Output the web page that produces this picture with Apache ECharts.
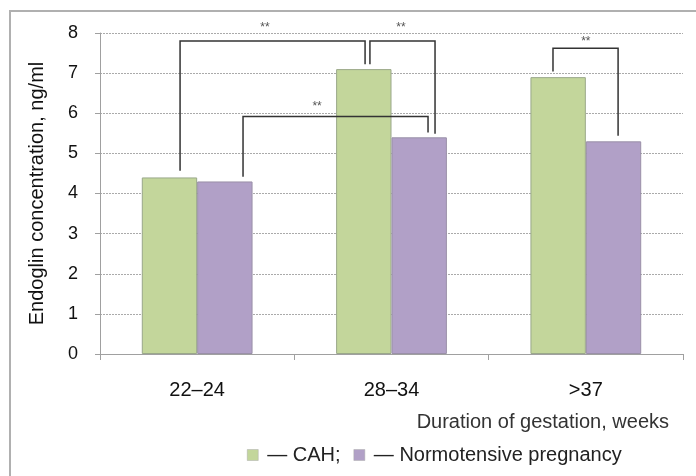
<!DOCTYPE html>
<html>
<head>
<meta charset="utf-8">
<script src="https://cdn.jsdelivr.net/npm/echarts@6/dist/echarts.min.js"></script>
<style>
html,body{margin:0;padding:0;background:#fff;}
#chart{width:696px;height:476px;}
</style>
</head>
<body>
<div id="chart"></div>
<script>
const categories = ['22–24', '28–34', '>37'];
const cahValues = [4.4, 7.1, 6.9];
const normValues = [4.3, 5.4, 5.3];
// significance brackets: [leftX, leftY, rightX, rightY, topY, labelX, labelY] (x on a helper value axis, -0.5..2.5)
const brackets = [
  [-0.088, 4.57, 0.864, 7.22, 7.8, 0.349, 8.12],
  [0.889, 7.22, 1.224, 5.49, 7.8, 1.049, 8.12],
  [0.236, 4.42, 1.188, 5.52, 5.92, 0.617, 6.16],
  [1.831, 7.04, 2.166, 5.44, 7.62, 2.0, 7.78]
];
const sigLabel = '**';

const chart = echarts.init(document.getElementById('chart'));
const font = 'Liberation Sans, Arial, sans-serif';
chart.setOption({
  animation: false,
  textStyle: { fontFamily: font },
  graphic: [{
    type: 'rect', shape: { x: 10, y: 11, width: 700, height: 480 },
    style: { fill: 'none', stroke: '#b0b0b0', lineWidth: 2 }, silent: true
  }],
  grid: { left: 100, right: 13, top: 33, bottom: 122, containLabel: false },
  legend: {
    left: 242, top: 440,
    icon: 'rect', itemWidth: 11, itemHeight: 11, itemGap: 13,
    itemStyle: { borderColor: '#aaa', borderWidth: 0.5 },
    textStyle: { fontSize: 20, color: '#222', fontFamily: font, padding: [0, 0, 0, 4] },
    formatter: n => '— ' + n + (n === 'CAH' ? ';' : ''),
    data: ['CAH', 'Normotensive pregnancy']
  },
  xAxis: [{
    type: 'category', data: categories,
    axisLine: { lineStyle: { color: '#a0a0a0', width: 1 } },
    axisTick: { show: true, length: 6, lineStyle: { color: '#a0a0a0' } },
    axisLabel: { fontSize: 20, color: '#111', margin: 26 },
    name: 'Duration of gestation, weeks', nameLocation: 'end', nameGap: -14,
    nameTextStyle: { fontSize: 20, color: '#333', align: 'right', verticalAlign: 'top', padding: [58, 0, 0, 0] }
  }, {
    type: 'value', min: -0.5, max: 2.5, show: false
  }],
  yAxis: {
    type: 'value', min: 0, max: 8, interval: 1,
    axisLine: { show: true, onZero: false, lineStyle: { color: '#a0a0a0' } },
    axisTick: { show: true, length: 5, lineStyle: { color: '#a0a0a0' } },
    axisLabel: { fontSize: 18, color: '#111', margin: 22 },
    splitLine: { lineStyle: { type: [2, 1], color: '#aaa', width: 1 } },
    name: 'Endoglin concentration, ng/ml', nameLocation: 'middle', nameGap: 53,
    nameTextStyle: { fontSize: 20, color: '#111' }
  },
  series: [{
    name: 'CAH', type: 'bar', data: cahValues, barGap: '0%', barCategoryGap: '43%',
    itemStyle: { color: '#c3d69b', borderColor: '#9aa88a', borderWidth: 1 }
  }, {
    name: 'Normotensive pregnancy', type: 'bar', data: normValues,
    itemStyle: { color: '#b1a0c7', borderColor: '#9a90a8', borderWidth: 1 }
  }, {
    type: 'custom', xAxisIndex: 1, data: brackets, silent: true, z: 5,
    renderItem: (params, api) => {
      const p1 = api.coord([api.value(0), api.value(1)]);
      const p2 = api.coord([api.value(2), api.value(3)]);
      const top = api.coord([api.value(0), api.value(4)])[1];
      const lab = api.coord([api.value(5), api.value(6)]);
      return {
        type: 'group', children: [{
          type: 'polyline',
          shape: { points: [[p1[0], p1[1]], [p1[0], top], [p2[0], top], [p2[0], p2[1]]] },
          style: { fill: 'none', stroke: '#333', lineWidth: 1.5 }
        }, {
          type: 'text',
          style: { x: lab[0], y: lab[1], text: sigLabel, fill: '#555', fontSize: 12, fontFamily: font, align: 'center', verticalAlign: 'middle' }
        }]
      };
    }
  }]
});
</script>
</body>
</html>
